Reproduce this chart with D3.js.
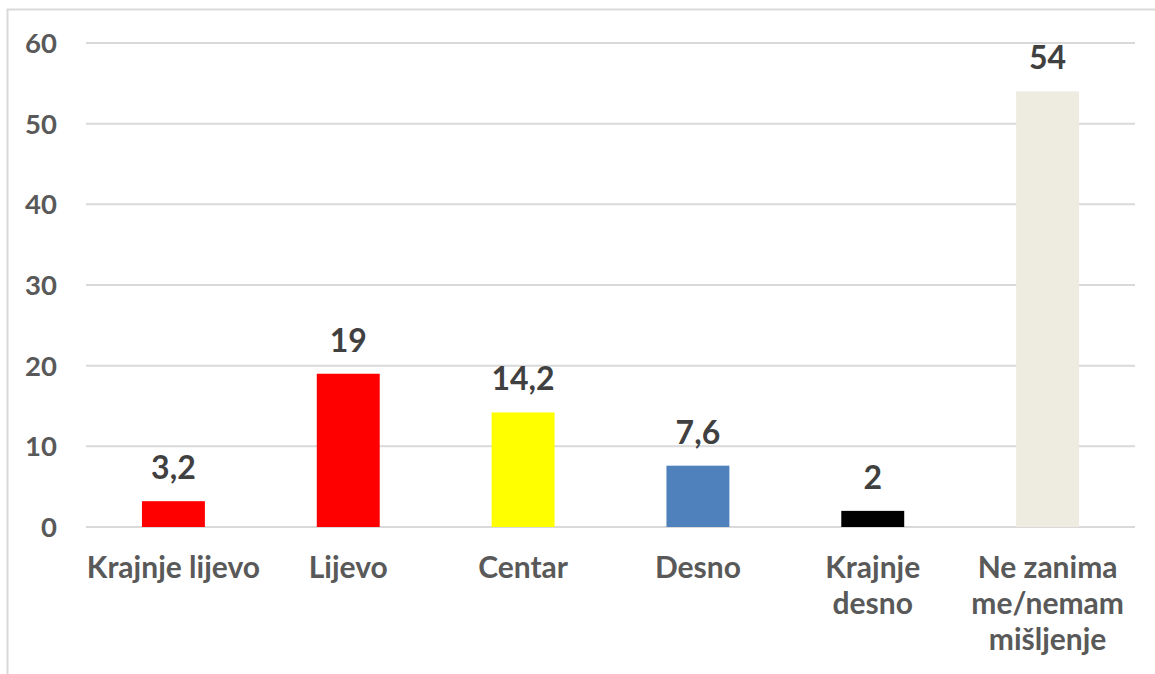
<!DOCTYPE html>
<html>
<head>
<meta charset="utf-8">
<script src="https://cdn.jsdelivr.net/npm/d3@7"></script>
<style>
  body { margin: 0; background: #fff; }
  svg text { font-family: Lato, "Open Sans", sans-serif; font-weight: bold; }
</style>
</head>
<body>
<svg id="chart" width="1155" height="674"></svg>
<script>
// data
var categories = [["Krajnje lijevo"], ["Lijevo"], ["Centar"], ["Desno"], ["Krajnje", "desno"], ["Ne zanima", "me/nemam", "mišljenje"]];
var values = [3.2, 19, 14.2, 7.6, 2, 54];
var labels = ["3,2", "19", "14,2", "7,6", "2", "54"];
var barColors = ["#FF0000", "#FF0000", "#FFFF00", "#4F81BD", "#000000", "#EEECE1"];
var yTicks = [0, 10, 20, 30, 40, 50, 60];

var svg = d3.select('#chart');

// chart area frame (runs off the right and bottom of the picture)
svg.append('rect')
  .attr('x', 7.5).attr('y', 9.5)
  .attr('width', 1200).attr('height', 700)
  .attr('fill', 'none')
  .attr('stroke', '#D9D9D9')
  .attr('stroke-width', 2);

var plot = {left: 86, right: 1135, top: 43, bottom: 527};

var x = d3.scaleBand()
  .domain(d3.range(values.length))
  .range([plot.left, plot.right])
  .paddingInner(0.64)
  .paddingOuter(0.32);

var y = d3.scaleLinear()
  .domain([0, 60])
  .range([plot.bottom, plot.top]);

// gridlines
svg.append('g')
  .selectAll('line')
  .data(yTicks)
  .enter()
  .append('line')
  .attr('x1', plot.left).attr('x2', plot.right)
  .attr('y1', function(d){ return y(d); })
  .attr('y2', function(d){ return y(d); })
  .attr('stroke', '#D9D9D9')
  .attr('stroke-width', 2);

// y tick labels
svg.append('g')
  .selectAll('text')
  .data(yTicks)
  .enter()
  .append('text')
  .attr('x', 57)
  .attr('y', function(d){ return y(d); })
  .attr('dy', '0.36em')
  .attr('text-anchor', 'end')
  .attr('fill', '#595959')
  .style('font-size', '27.5px')
  .text(function(d){ return d; });

// bars
svg.append('g')
  .selectAll('rect')
  .data(values)
  .enter()
  .append('rect')
  .attr('x', function(d, i){ return x(i); })
  .attr('y', function(d){ return y(d); })
  .attr('width', x.bandwidth())
  .attr('height', function(d){ return y(0) - y(d); })
  .attr('fill', function(d, i){ return barColors[i]; });

// value labels
svg.append('g')
  .selectAll('text')
  .data(values)
  .enter()
  .append('text')
  .attr('x', function(d, i){ return x(i) + x.bandwidth() / 2; })
  .attr('y', function(d){ return y(d) - 22; })
  .attr('text-anchor', 'middle')
  .attr('fill', '#404040')
  .style('font-size', '32px')
  .text(function(d, i){ return labels[i]; });

// category labels, one tspan per line
var cat = svg.append('g')
  .selectAll('text')
  .data(categories)
  .enter()
  .append('text')
  .attr('x', function(d, i){ return x(i) + x.bandwidth() / 2; })
  .attr('y', 578)
  .attr('text-anchor', 'middle')
  .attr('fill', '#595959')
  .style('font-size', '30px');

cat.selectAll('tspan')
  .data(function(d){ return d; })
  .enter()
  .append('tspan')
  .attr('x', function(){ return d3.select(this.parentNode).attr('x'); })
  .attr('dy', function(d, i){ return i === 0 ? 0 : 36; })
  .text(function(d){ return d; });
</script>
</body>
</html>
